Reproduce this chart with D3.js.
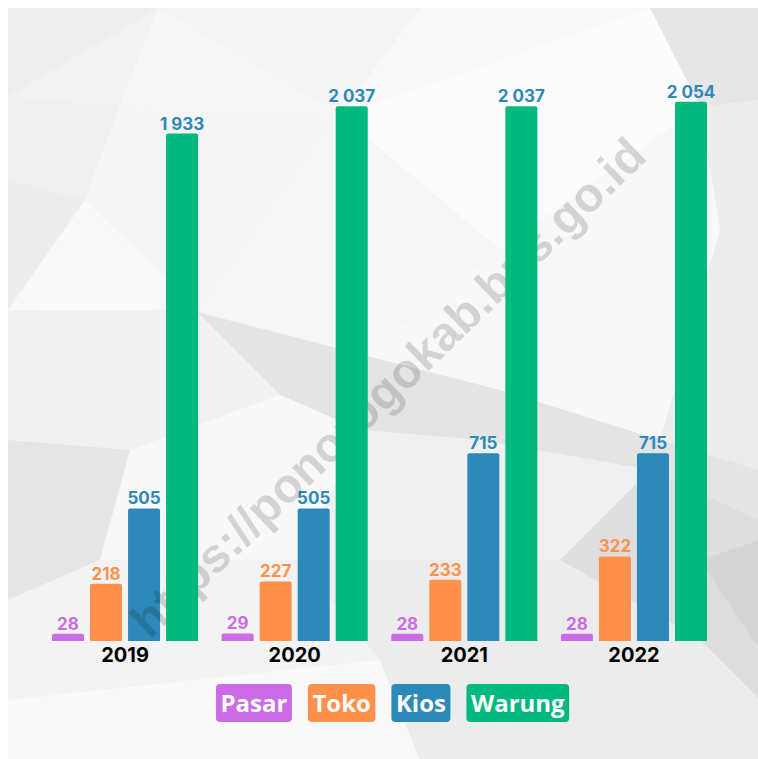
<!DOCTYPE html>
<html>
<head>
<meta charset="utf-8">
<script src="https://cdn.jsdelivr.net/npm/d3@7"></script>
<style>
  html, body { margin: 0; padding: 0; background: #fff; }
  svg { display: block; }
</style>
</head>
<body>
<div id="chart"></div>
<script>
var years = ['2019', '2020', '2021', '2022']
var series = ['Pasar', 'Toko', 'Kios', 'Warung']
var pasar = [28, 29, 28, 28]
var toko = [218, 227, 233, 322]
var kios = [505, 505, 715, 715]
var warung = [1933, 2037, 2037, 2054]
var colors = ['#cb6ce6', '#ff914d', '#2d89b9', '#00b97e']
var labelColors = ['#cb6ce6', '#ff914d', '#2d89b9', '#2d89b9']
var watermark = 'https://ponorogokab.bps.go.id'

var values = [pasar, toko, kios, warung]
var data = years.map((yr, i) => ({
    year: yr,
    items: series.map((s, j) => ({ name: s, idx: j, value: values[j][i] }))
}))

var width = 758, height = 759
var svg = d3.select('#chart').append('svg').attr('width', width).attr('height', height)

// low-poly backdrop, kept soft
var polys = [
    [[[8,8],[760,8],[760,760],[8,760]], '#f3f3f3'],
    [[[8,8],[158,8],[8,97]], '#eeeeee'],
    [[[158,8],[8,97],[120,105]], '#f2f2f2'],
    [[[158,8],[120,105],[340,115]], '#f6f6f6'],
    [[[158,8],[340,115],[420,8]], '#f4f4f4'],
    [[[420,8],[340,115],[650,8]], '#f9f9f9'],
    [[[650,8],[760,8],[760,100],[700,107]], '#e6e6e6'],
    [[[8,97],[120,105],[85,200],[8,180]], '#f0f0f0'],
    [[[8,180],[85,200],[8,310]], '#ededed'],
    [[[85,200],[200,310],[8,310]], '#f9f9f9'],
    [[[85,200],[120,105],[340,115],[200,310]], '#f5f5f5'],
    [[[340,115],[650,8],[700,107],[500,250]], '#fcfcfc'],
    [[[340,115],[500,250],[363,355],[200,312]], '#f6f6f6'],
    [[[700,107],[760,100],[760,470],[660,440],[720,230]], '#ececec'],
    [[[500,250],[700,107],[720,230],[660,440],[500,390],[363,355]], '#f8f8f8'],
    [[[197,312],[363,355],[500,390],[660,440],[760,470],[760,520],[650,470],[480,440],[360,430],[280,395]], '#e4e4e4'],
    [[[8,310],[197,312],[280,395],[130,450],[8,440]], '#f1f1f1'],
    [[[8,440],[130,450],[100,560],[8,600]], '#e5e5e5'],
    [[[130,450],[280,395],[360,430],[300,560],[100,560]], '#f8f8f8'],
    [[[8,600],[100,560],[300,560],[380,660],[8,700]], '#f3f3f3'],
    [[[8,700],[380,660],[420,760],[8,760]], '#f9f9f9'],
    [[[360,430],[480,440],[650,470],[560,560],[300,560]], '#f0f0f0'],
    [[[650,470],[760,520],[760,700],[700,640],[560,560]], '#dedede'],
    [[[560,560],[700,640],[760,700],[760,760],[420,760],[380,660],[300,560]], '#ececec'],
    [[[700,560],[760,540],[760,650]], '#d4d4d4']
]
svg.append('g').selectAll('polygon')
    .data(polys)
    .enter()
    .append('polygon')
    .attr('points', d => d[0].map(p => p.join(',')).join(' '))
    .attr('fill', d => d[1])

var x0 = d3.scaleBand().domain(years).range([52, 707]).paddingInner(0.139).paddingOuter(0)
var x1 = d3.scaleBand().domain(series).range([0, x0.bandwidth()]).paddingInner(0.158).paddingOuter(0)
var y = d3.scaleLinear().domain([0, 2000]).range([641, 116])

var fmt = d3.formatLocale({ decimal: ',', thousands: ' ', grouping: [3], currency: ['', ''] }).format(',d')

function barPath(d) {
    var bx = x1(d.name), bw = x1.bandwidth()
    var top = y(d.value), bot = y(0), r = Math.min(2, (bot - top) / 2)
    return 'M' + bx + ',' + bot + 'V' + (top + r) + 'Q' + bx + ',' + top + ' ' + (bx + r) + ',' + top +
        'H' + (bx + bw - r) + 'Q' + (bx + bw) + ',' + top + ' ' + (bx + bw) + ',' + (top + r) + 'V' + bot + 'Z'
}

var groups = svg.append('g').selectAll('g')
    .data(data)
    .enter()
    .append('g')
    .attr('transform', d => 'translate(' + x0(d.year) + ',0)')

groups.selectAll('path')
    .data(d => d.items.filter(it => it.name != 'Warung'))
    .enter()
    .append('path')
    .attr('d', barPath)
    .attr('fill', d => colors[d.idx])

// watermark sits between the small bars and the tall ones
svg.append('text')
    .text(watermark)
    .attr('transform', 'translate(150,640) rotate(-44)')
    .attr('font-family', '"Liberation Sans", Arial, sans-serif')
    .attr('font-weight', 700)
    .attr('font-size', 48)
    .attr('fill', '#000')
    .attr('fill-opacity', 0.15)

var tall = svg.append('g').selectAll('g')
    .data(data)
    .enter()
    .append('g')
    .attr('transform', d => 'translate(' + x0(d.year) + ',0)')
tall.selectAll('path')
    .data(d => d.items.filter(it => it.name == 'Warung'))
    .enter()
    .append('path')
    .attr('d', barPath)
    .attr('fill', d => colors[d.idx])

// value labels
groups.selectAll('text.val')
    .data(d => d.items)
    .enter()
    .append('text')
    .attr('class', 'val')
    .attr('x', d => x1(d.name) + x1.bandwidth() / 2)
    .attr('y', d => y(d.value) - 4)
    .attr('text-anchor', 'middle')
    .attr('font-family', 'Inter, sans-serif')
    .attr('font-weight', 700)
    .attr('font-size', 17)
    .attr('fill', d => labelColors[d.idx])
    .text(d => fmt(d.value))

// year labels
svg.append('g').selectAll('text')
    .data(years)
    .enter()
    .append('text')
    .attr('x', d => x0(d) + x0.bandwidth() / 2)
    .attr('y', 662)
    .attr('text-anchor', 'middle')
    .attr('font-family', 'Inter, sans-serif')
    .attr('font-weight', 700)
    .attr('font-size', 20)
    .attr('fill', '#000')
    .text(d => d)

// legend
var legend = svg.append('g')
var lx = 216
series.forEach((s, i) => {
    var item = legend.append('g')
    var rect = item.append('rect')
    var t = item.append('text')
        .text(s)
        .attr('font-family', '"Open Sans", sans-serif')
        .attr('font-weight', 700)
        .attr('font-size', 24)
        .attr('fill', '#fff')
        .attr('text-anchor', 'middle')
    var tw = t.node().getComputedTextLength()
    var bw = tw + 9
    rect.attr('x', lx).attr('y', 684).attr('width', bw).attr('height', 38)
        .attr('rx', 4).attr('fill', colors[i])
    t.attr('x', lx + bw / 2).attr('y', 712)
    lx += bw + 16
})
</script>
</body>
</html>
